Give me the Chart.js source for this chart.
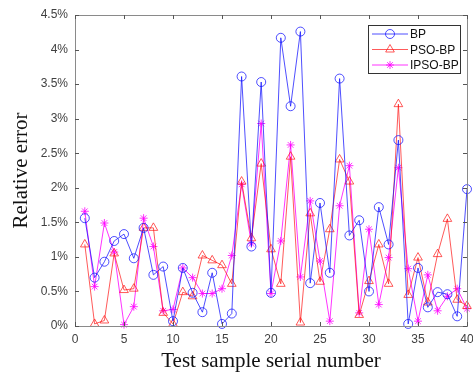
<!DOCTYPE html>
<html lang="en">
<head>
    <meta charset="UTF-8">
    <title>Relative error</title>
    <script src="https://cdn.jsdelivr.net/npm/chart.js"></script>
    <style>
        html, body {
            margin: 0;
            padding: 0;
            background: #ffffff;
        }
        .wrap {
            position: relative;
            width: 473px;
            height: 374px;
        }
    </style>
</head>
<body>
    <div class="wrap">
        <canvas id="errorChart"></canvas>
    </div>

    <script>
        // Test sample serial numbers
        const samples = [1, 2, 3, 4, 5, 6, 7, 8, 9, 10,
                         11, 12, 13, 14, 15, 16, 17, 18, 19, 20,
                         21, 22, 23, 24, 25, 26, 27, 28, 29, 30,
                         31, 32, 33, 34, 35, 36, 37, 38, 39, 40];

        // Relative error (%)
        const bpErr = [1.56, 0.70, 0.93, 1.23, 1.33, 0.98, 1.42, 0.74, 0.86, 0.07,
                       0.84, 0.48, 0.20, 0.77, 0.03, 0.18, 3.61, 1.15, 3.53, 0.48,
                       4.17, 3.18, 4.26, 0.62, 1.78, 0.77, 3.58, 1.31, 1.53, 0.50,
                       1.72, 1.18, 2.69, 0.03, 0.84, 0.27, 0.49, 0.46, 0.14, 1.98];
        const psoErr = [1.18, 0.03, 0.08, 1.05, 0.52, 0.54, 1.42, 1.42, 0.19, 0.03,
                        0.49, 0.43, 1.02, 0.95, 0.88, 0.61, 2.09, 1.27, 2.35, 1.11,
                        0.61, 2.45, 0.05, 1.63, 0.64, 1.40, 2.41, 2.09, 0.16, 0.65,
                        1.18, 0.61, 3.21, 0.45, 0.99, 0.34, 1.04, 1.55, 0.38, 0.29];
        const ipsoErr = [1.66, 0.57, 1.49, 1.07, 0.02, 0.28, 1.56, 1.15, 0.22, 0.24,
                         0.84, 0.70, 0.47, 0.47, 0.54, 1.02, 2.05, 1.19, 2.93, 0.47,
                         1.23, 2.62, 0.71, 1.81, 0.94, 0.07, 1.74, 2.32, 0.19, 1.40,
                         0.31, 0.99, 2.29, 0.83, 0.07, 0.74, 0.22, 0.43, 0.54, 0.25];

        const xTicks = [0, 5, 10, 15, 20, 25, 30, 35, 40];
        const yTicks = [0, 0.5, 1, 1.5, 2, 2.5, 3, 3.5, 4, 4.5];

        function toPoints(vals) {
            return vals.map((v, i) => ({ x: samples[i], y: v }));
        }

        // MATLAB-style box with inward ticks on all four sides
        const boxPlugin = {
            id: 'boxPlugin',
            afterDatasetsDraw(chart) {
                const { ctx, chartArea: { left, right, top, bottom }, scales: { x, y } } = chart;
                ctx.save();
                ctx.strokeStyle = '#8a8a8a';
                ctx.lineWidth = 1;
                ctx.strokeRect(Math.round(left) + 0.5, Math.round(top) + 0.5,
                               Math.round(right - left), Math.round(bottom - top));
                ctx.strokeStyle = '#555555';
                ctx.beginPath();
                xTicks.forEach(v => {
                    const px = Math.round(x.getPixelForValue(v)) + 0.5;
                    ctx.moveTo(px, bottom); ctx.lineTo(px, bottom - 4);
                    ctx.moveTo(px, top); ctx.lineTo(px, top + 4);
                });
                yTicks.forEach(v => {
                    const py = Math.round(y.getPixelForValue(v)) + 0.5;
                    ctx.moveTo(left, py); ctx.lineTo(left + 4, py);
                    ctx.moveTo(right, py); ctx.lineTo(right - 4, py);
                });
                ctx.stroke();
                ctx.restore();
            }
        };

        // Legend box in the upper right corner
        const legendPlugin = {
            id: 'legendPlugin',
            afterDraw(chart) {
                const { ctx } = chart;
                const bx = 368, by = 25, bw = 92, bh = 48;
                ctx.save();
                ctx.fillStyle = '#ffffff';
                ctx.fillRect(bx, by, bw, bh);
                ctx.strokeStyle = '#333333';
                ctx.lineWidth = 1;
                ctx.strokeRect(bx + 0.5, by + 0.5, bw, bh);
                ctx.font = '12px "Liberation Sans", Arial, sans-serif';
                ctx.textBaseline = 'middle';
                chart.data.datasets.forEach((ds, i) => {
                    const yy = by + 9 + i * 15.5;
                    ctx.strokeStyle = ds.borderColor;
                    ctx.lineWidth = 1;
                    ctx.beginPath();
                    ctx.moveTo(bx + 4, yy);
                    ctx.lineTo(bx + 40, yy);
                    ctx.stroke();
                    ctx.fillStyle = 'rgba(0, 0, 0, 0)';
                    Chart.helpers.drawPoint(ctx, {
                        pointStyle: ds.pointStyle,
                        radius: ds.pointRadius,
                        borderWidth: 1,
                        rotation: 0
                    }, bx + 22, yy);
                    ctx.fillStyle = '#111111';
                    ctx.fillText(ds.label, bx + 42, yy + 1);
                });
                ctx.restore();
            }
        };

        const ctx = document.getElementById('errorChart').getContext('2d');
        new Chart(ctx, {
            type: 'line',
            data: {
                datasets: [
                    {
                        label: 'BP',
                        data: toPoints(bpErr),
                        borderColor: 'rgba(20, 20, 255, 0.75)',
                        backgroundColor: 'rgba(0, 0, 0, 0)',
                        borderWidth: 1,
                        pointStyle: 'circle',
                        pointRadius: 4.5,
                        pointBorderWidth: 1,
                        clip: false
                    },
                    {
                        label: 'PSO-BP',
                        data: toPoints(psoErr),
                        borderColor: 'rgba(255, 20, 20, 0.7)',
                        backgroundColor: 'rgba(0, 0, 0, 0)',
                        borderWidth: 1,
                        pointStyle: 'triangle',
                        pointRadius: 5,
                        pointBorderWidth: 1,
                        clip: false
                    },
                    {
                        label: 'IPSO-BP',
                        data: toPoints(ipsoErr),
                        borderColor: 'rgba(255, 0, 255, 0.8)',
                        backgroundColor: 'rgba(0, 0, 0, 0)',
                        borderWidth: 1,
                        pointStyle: 'star',
                        pointRadius: 4,
                        pointBorderWidth: 1,
                        clip: false
                    }
                ]
            },
            options: {
                responsive: true,
                maintainAspectRatio: false,
                animation: false,
                layout: { padding: { top: 15, right: 5, bottom: 0, left: 0 } },
                plugins: {
                    legend: { display: false },
                    tooltip: { enabled: false }
                },
                scales: {
                    x: {
                        type: 'linear',
                        min: 0,
                        max: 40,
                        grid: { display: false, drawTicks: false },
                        border: { display: false },
                        ticks: {
                            stepSize: 5,
                            padding: 6,
                            color: '#404040',
                            font: { family: '"Liberation Sans", Arial, sans-serif', size: 12 }
                        },
                        title: {
                            display: true,
                            text: 'Test sample serial number',
                            color: '#111111',
                            padding: { top: 0, bottom: 0 },
                            font: { family: '"Liberation Serif", "Times New Roman", serif', size: 21 }
                        },
                        afterFit(scale) {
                            scale.height = 48;
                            scale.paddingLeft = 0;
                            scale.paddingRight = 0;
                        }
                    },
                    y: {
                        min: 0,
                        max: 4.5,
                        grid: { display: false, drawTicks: false },
                        border: { display: false },
                        ticks: {
                            stepSize: 0.5,
                            padding: 7,
                            color: '#404040',
                            font: { family: '"Liberation Sans", Arial, sans-serif', size: 12 },
                            callback: value => value + '%'
                        },
                        title: {
                            display: true,
                            text: 'Relative error',
                            color: '#111111',
                            padding: { top: 9, bottom: 0 },
                            font: { family: '"Liberation Serif", "Times New Roman", serif', size: 21 }
                        },
                        afterFit(scale) {
                            scale.width = 75;
                            scale.paddingTop = 0;
                            scale.paddingBottom = 0;
                        }
                    }
                }
            },
            plugins: [boxPlugin, legendPlugin]
        });
    </script>
</body>
</html>
